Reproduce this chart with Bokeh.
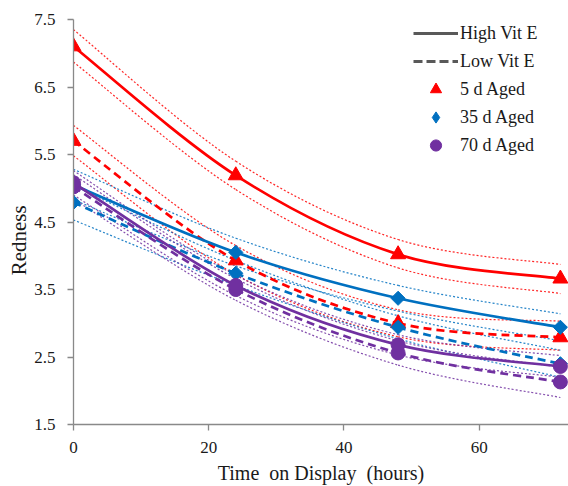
import numpy as np
from bokeh.plotting import figure
from bokeh.models import Range1d, Legend, LegendItem, FixedTicker, ColumnDataSource
from bokeh.embed import file_html
from bokeh.resources import INLINE

# ---------------- data ----------------
hours = [0, 24, 48, 72]

aged5_high = [7.10, 5.19, 4.02, 3.66]
aged5_high_upper = [7.35, 5.40, 4.24, 3.87]
aged5_high_lower = [6.87, 4.98, 3.82, 3.44]

aged5_low = [5.70, 3.93, 3.00, 2.79]
aged5_low_upper = [5.93, 4.15, 3.20, 3.03]
aged5_low_lower = [5.48, 3.72, 2.80, 2.60]

aged35_high = [5.05, 4.05, 3.37, 2.94]
aged35_high_upper = [5.28, 4.26, 3.56, 3.14]
aged35_high_lower = [4.83, 3.85, 3.18, 2.74]

aged35_low = [4.79, 3.74, 2.94, 2.40]
aged35_low_upper = [5.04, 3.93, 3.11, 2.60]
aged35_low_lower = [4.53, 3.56, 2.77, 2.20]

aged70_high = [5.08, 3.56, 2.68, 2.36]
aged70_high_upper = [5.26, 3.71, 2.83, 2.52]
aged70_high_lower = [4.90, 3.41, 2.53, 2.20]

aged70_low = [5.02, 3.50, 2.56, 2.13]
aged70_low_upper = [5.20, 3.66, 2.74, 2.35]
aged70_low_lower = [4.84, 3.34, 2.38, 1.90]

x_ticks = [0, 20, 40, 60]
y_ticks = [1.5, 2.5, 3.5, 4.5, 5.5, 6.5, 7.5]

legend_labels = ["High Vit E", "Low Vit E", "5 d Aged", "35 d Aged", "70 d Aged"]
x_title = "Time\u00a0 on Display\u00a0 (hours)"
y_title = "Redness"

# ---------------- style ----------------
RED = "#FF0000"
BLUE = "#0070C0"
PURPLE = "#7030A0"
AXIS = "#898989"
TEXT = "#1a1a1a"
FONT = "Liberation Serif"


def smooth_segments(xs, ys, t=1.0 / 6.0):
    """Cubic Bezier segments (Excel-style smoothed line) through the data points."""
    n = len(xs)
    d = dict(x0=[], y0=[], x1=[], y1=[], cx0=[], cy0=[], cx1=[], cy1=[])
    for i in range(n - 1):
        ip = max(i - 1, 0)
        inx = min(i + 2, n - 1)
        d["x0"].append(xs[i]); d["y0"].append(ys[i])
        d["x1"].append(xs[i + 1]); d["y1"].append(ys[i + 1])
        d["cx0"].append(xs[i] + (xs[i + 1] - xs[ip]) * t)
        d["cy0"].append(ys[i] + (ys[i + 1] - ys[ip]) * t)
        d["cx1"].append(xs[i + 1] - (xs[inx] - xs[i]) * t)
        d["cy1"].append(ys[i + 1] - (ys[inx] - ys[i]) * t)
    return ColumnDataSource(d)


p = figure(width=568, height=486, output_backend="svg", toolbar_location=None,
           x_range=Range1d(0, 73.2), y_range=Range1d(1.5, 7.5),
           min_border_left=73, min_border_right=0, min_border_top=19, min_border_bottom=62)
p.outline_line_color = None
p.xgrid.grid_line_color = None
p.ygrid.grid_line_color = None
p.background_fill_color = "white"
p.border_fill_color = "white"

for ax in (p.xaxis[0], p.yaxis[0]):
    ax.axis_line_color = AXIS
    ax.axis_line_width = 1.3
    ax.major_tick_line_color = AXIS
    ax.major_tick_line_width = 1.3
    ax.major_tick_in = 0
    ax.major_tick_out = 6
    ax.minor_tick_line_color = None
    ax.major_label_text_font = FONT
    ax.major_label_text_font_size = "17px"
    ax.major_label_text_color = TEXT
    ax.axis_label_text_font = FONT
    ax.axis_label_text_color = TEXT
    ax.axis_label_text_font_style = "normal"

p.xaxis.ticker = FixedTicker(ticks=x_ticks)
p.yaxis.ticker = FixedTicker(ticks=y_ticks)
p.yaxis.major_label_standoff = 12
p.xaxis.major_label_standoff = 11
p.xaxis.axis_label = x_title
p.xaxis.axis_label_text_font_size = "20px"
p.xaxis.axis_label_standoff = 6
# trailing no-break spaces push the title a little below the middle, as in the original
p.yaxis.axis_label = y_title + "\u00a0" * 7
p.yaxis.axis_label_text_font_size = "21px"
p.yaxis.axis_label_standoff = 0

series = [
    (RED, "triangle", 15, 0, aged5_high, aged5_high_upper, aged5_high_lower,
     aged5_low, aged5_low_upper, aged5_low_lower),
    (BLUE, "square", 10, np.pi / 4, aged35_high, aged35_high_upper, aged35_high_lower,
     aged35_low, aged35_low_upper, aged35_low_lower),
    (PURPLE, "circle", 14, 0, aged70_high, aged70_high_upper, aged70_high_lower,
     aged70_low, aged70_low_upper, aged70_low_lower),
]

# confidence bands (dotted)
for color, marker, size, angle, hi, hiu, hil, lo, lou, lol in series:
    for band in (hiu, hil, lou, lol):
        p.bezier("x0", "y0", "x1", "y1", "cx0", "cy0", "cx1", "cy1",
                 source=smooth_segments(hours, band), line_color=color,
                 line_width=1.2, line_dash="2 2", line_alpha=0.85)

# means
for color, marker, size, angle, hi, hiu, hil, lo, lou, lol in series:
    p.bezier("x0", "y0", "x1", "y1", "cx0", "cy0", "cx1", "cy1",
             source=smooth_segments(hours, lo), line_color=color,
             line_width=2.7, line_dash="8 5")
    p.bezier("x0", "y0", "x1", "y1", "cx0", "cy0", "cx1", "cy1",
             source=smooth_segments(hours, hi), line_color=color,
             line_width=2.7)
    for vals in (lo, hi):
        p.scatter(hours, vals, marker=marker, size=size, angle=angle,
                  fill_color=color, line_color=color)

# legend (proxy renderers, nothing drawn in the plot area)
nan = [np.nan]
lg_solid = p.line(nan, nan, line_color="#595959", line_width=3)
lg_dash = p.line(nan, nan, line_color="#595959", line_width=3, line_dash="9 4")
lg_tri = p.scatter(nan, nan, marker="triangle", size=12, fill_color=RED, line_color=RED)
lg_dia = p.scatter(nan, nan, marker="diamond", size=13, fill_color=BLUE, line_color=BLUE)
lg_cir = p.scatter(nan, nan, marker="circle", size=11, fill_color=PURPLE, line_color=PURPLE)

legend = Legend(items=[LegendItem(label=l, renderers=[r]) for l, r in
                       zip(legend_labels, [lg_solid, lg_dash, lg_tri, lg_dia, lg_cir])],
                location=(340, 265), padding=0, margin=0, spacing=0,
                glyph_width=45, glyph_height=28, label_height=28, label_standoff=2,
                label_text_font=FONT, label_text_font_size="18px", label_text_color=TEXT,
                border_line_color=None, background_fill_alpha=0)
p.add_layout(legend, "center")

open("out.html", "w").write(file_html(p, INLINE))
